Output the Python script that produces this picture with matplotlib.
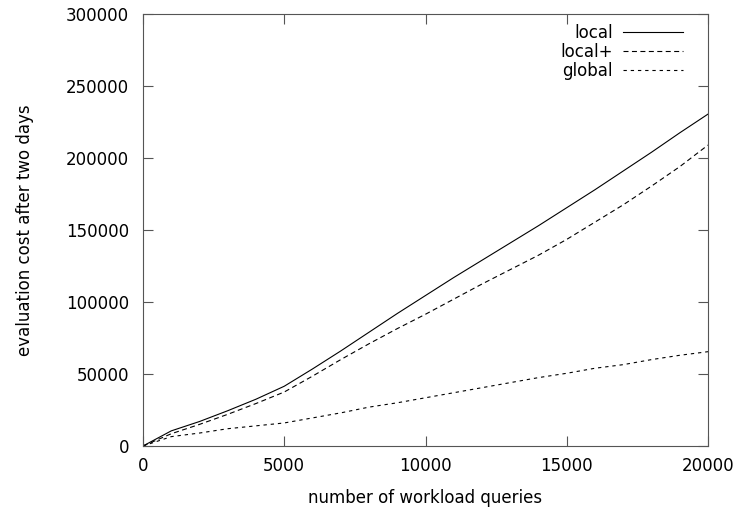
import matplotlib
matplotlib.use("Agg")
from matplotlib import pyplot as plt

# number of workload queries
queries = [0, 1000, 2000, 3000, 4000, 5000, 6000, 7000, 8000, 9000, 10000,
           11000, 12000, 13000, 14000, 15000, 16000, 17000, 18000, 19000, 20000]

# evaluation cost after two days
local = [0, 10500, 17000, 24500, 32500, 41500, 53500, 66000, 79000, 92000, 104500,
         117000, 129000, 141000, 153000, 165500, 178000, 191000, 204000, 217500, 230500]
localPlus = [0, 8500, 15000, 22000, 29500, 37500, 48500, 60000, 71000, 81500, 91500,
             102000, 112500, 122500, 132500, 143500, 155500, 167500, 180500, 194000, 209000]
globalCost = [0, 6500, 9000, 12000, 14000, 16000, 19500, 23000, 27000, 30000, 33500,
              37000, 40500, 44000, 47500, 50500, 54000, 56500, 60000, 63000, 65500]

xTicks = [0, 5000, 10000, 15000, 20000]
yTicks = [0, 50000, 100000, 150000, 200000, 250000, 300000]

plt.rcParams['font.family'] = ['DejaVu Sans']

fig = plt.figure(figsize=(7.37, 5.11), dpi=100)
ax = fig.add_axes([0.194, 0.1272, 0.7667, 0.8454])

ax.plot(queries, local, color='black', lw=0.8, label='local')
ax.plot(queries, localPlus, color='black', lw=0.8, dashes=(4.5, 3.1), label='local+')
ax.plot(queries, globalCost, color='black', lw=0.8, dashes=(3, 3.5), label='global')

ax.set_xlim(0, 20000)
ax.set_ylim(0, 300000)
ax.set_xticks(xTicks)
ax.set_yticks(yTicks)
ax.set_xticklabels([str(t) for t in xTicks])
ax.set_yticklabels([str(t) for t in yTicks])
ax.tick_params(direction='in', top=True, right=True, length=7, width=0.8,
               labelsize=12, color='#555555')
ax.tick_params(axis='y', pad=10)
ax.tick_params(axis='x', pad=8)
for s in ax.spines.values():
    s.set_linewidth(0.8)
    s.set_color('#555555')

ax.set_xlabel('number of workload queries', fontsize=12, labelpad=10)
ax.set_ylabel('evaluation cost after two days', fontsize=12, labelpad=23)

ax.legend(loc='upper right', frameon=False, markerfirst=False, fontsize=12,
          handlelength=3.6, handletextpad=0.6, labelspacing=0.05,
          borderaxespad=0.0, bbox_to_anchor=(0.9676, 0.992))

fig.savefig('out.png', dpi=100)
